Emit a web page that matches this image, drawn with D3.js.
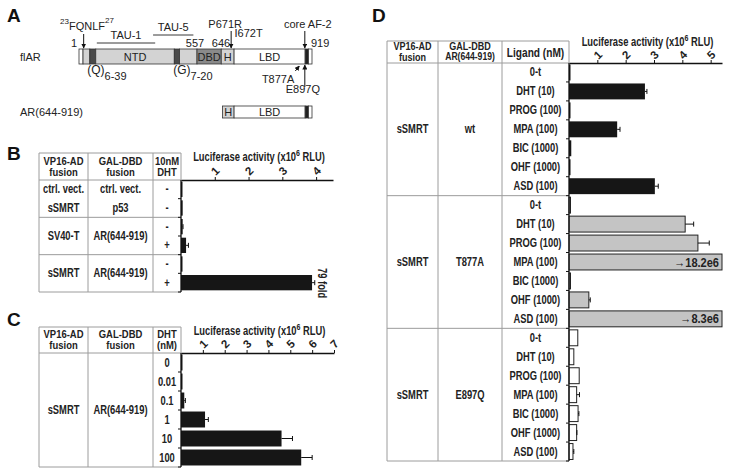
<!DOCTYPE html>
<html>
<head>
<meta charset="utf-8">
<script src="https://cdn.jsdelivr.net/npm/d3@7"></script>
<style>
  body { margin: 0; background: #fff; }
  svg { display: block; font-family: "Liberation Sans", Arial, sans-serif; }
  .tb { font-family: "Liberation Sans", Arial, sans-serif; font-weight: bold; fill: #222; }
  .pa { font-size: 11px; fill: #222; }
  .letter { font-size: 19px; font-weight: bold; fill: #111; }
</style>
</head>
<body>
<svg id="fig" width="729" height="475"></svg>
<script>
// ---- data ----
// panel A: AR domain map (amino-acid positions)
const flarSegments = [
  { from: 1, to: 20, type: 'end' },
  { from: 20, to: 52, type: 'ntd' },
  { from: 52, to: 80, type: 'tract' },
  { from: 80, to: 450, type: 'ntd', label: 'NTD' },
  { from: 450, to: 475, type: 'tract' },
  { from: 475, to: 557, type: 'ntd' },
  { from: 557, to: 640, type: 'dbd', label: 'DBD' },
  { from: 640, to: 680, type: 'hinge', label: 'H' },
  { from: 680, to: 898, type: 'lbd', label: 'LBD' },
  { from: 898, to: 908, type: 'af2' },
  { from: 908, to: 919, type: 'end' }
];
const arLbdSegments = [
  { from: 644, to: 680, type: 'hinge', label: 'H' },
  { from: 680, to: 898, type: 'lbd', label: 'LBD' },
  { from: 898, to: 908, type: 'af2' },
  { from: 908, to: 919, type: 'end' }
];
const tauRegions = [
  { name: 'TAU-1', from: 85, to: 360 },
  { name: 'TAU-5', from: 350, to: 540 }
];
const positionLabels = [1, 557, 646, 919];

// panel B
const bDHT = ['-', '-', '-', '+', '-', '+'];
const bValues = [0.02, 0.05, 0.05, 0.15, 0.03, 3.88];
const bErrors = [0, 0, 0.01, 0.07, 0, 0.08];
const bADFusion = ['ctrl. vect.', 'sSMRT', 'SV40-T', 'sSMRT'];
const bDBDFusion = ['ctrl. vect.', 'p53', 'AR(644-919)', 'AR(644-919)'];
const bCellRows = [[0, 0], [1, 1], [2, 3], [4, 5]];
const bTicks = [1, 2, 3, 4];

// panel C
const cDHT = ['0', '0.01', '0.1', '1', '10', '100'];
const cValues = [0.03, 0.02, 0.15, 1.1, 4.6, 5.5];
const cErrors = [0, 0, 0.05, 0.15, 0.5, 0.5];
const cTicks = [1, 2, 3, 4, 5, 6, 7];

// panel D
const ligands = ['0-t', 'DHT (10)', 'PROG (100)', 'MPA (100)', 'BIC (1000)', 'OHF (1000)', 'ASD (100)'];
const mutants = ['wt', 'T877A', 'E897Q'];
const wtValues = [0.03, 2.68, 0.03, 1.7, 0.08, 0.03, 3.03];
const wtErrors = [0, 0.07, 0, 0.1, 0, 0, 0.12];
const t877aValues = [0.03, 4.1, 4.55, 18.2, 0.03, 0.7, 8.3];
const t877aErrors = [0, 0.3, 0.4, 0, 0, 0.05, 0];
const e897qValues = [0.31, 0.17, 0.36, 0.27, 0.32, 0.27, 0.14];
const e897qErrors = [0, 0, 0, 0.1, 0.03, 0.01, 0.03];
const dTicks = [1, 2, 3, 4, 5];

const svg = d3.select('#fig');
const lineGray = '#9c9c9c';
const narrow = 0.78; // horizontal squeeze for the condensed table lettering

function letter(txt, x, y) {
  svg.append('text').attr('class', 'letter').attr('x', x).attr('y', y).text(txt);
}

// ---------- Panel A ----------
letter('A', 7, 22);
const aa = d3.scaleLinear().domain([1, 557, 646, 919]).range([79, 197, 223, 312]);
const shade = { end: '#fff', ntd: '#d3d3d3', tract: '#4a4a4a', dbd: '#8a8a8a', hinge: '#d3d3d3', lbd: '#fff', af2: '#222' };

svg.append('defs').append('marker')
  .attr('id', 'ah').attr('viewBox', '0 0 10 10').attr('refX', 9).attr('refY', 5)
  .attr('markerWidth', 5).attr('markerHeight', 5).attr('orient', 'auto')
  .append('path').attr('d', 'M0,0 L10,5 L0,10 z').attr('fill', '#111');

const gA = svg.append('g');

function domainBar(segs, y0, h) {
  gA.selectAll(null).data(segs).enter().append('rect')
    .attr('x', d => aa(d.from)).attr('y', y0)
    .attr('width', d => aa(d.to) - aa(d.from)).attr('height', h)
    .attr('fill', d => shade[d.type]).attr('stroke', '#333').attr('stroke-width', 0.8);
  gA.selectAll(null).data(segs.filter(d => d.label)).enter().append('text')
    .attr('class', 'pa').attr('text-anchor', 'middle')
    .attr('x', d => (aa(d.from) + aa(d.to)) / 2).attr('y', y0 + h / 2 + 4)
    .text(d => d.label);
}
domainBar(flarSegments, 49, 15);
domainBar(arLbdSegments, 106, 12);

gA.append('text').attr('class', 'pa').attr('x', 20).attr('y', 61).text('flAR');
gA.append('text').attr('class', 'pa').attr('x', 20).attr('y', 116).text('AR(644-919)');

// TAU regions
tauRegions.forEach((t, i) => {
  const y = i === 0 ? 43 : 35;
  gA.append('line').attr('x1', aa(t.from)).attr('x2', aa(t.to)).attr('y1', y).attr('y2', y)
    .attr('stroke', '#222').attr('stroke-width', 0.9);
  gA.append('text').attr('class', 'pa').attr('text-anchor', 'middle')
    .attr('x', (aa(t.from) + aa(t.to)) / 2).attr('y', y - 4).text(t.name);
});

// position numbers
gA.selectAll(null).data(positionLabels).enter().append('text')
  .attr('class', 'pa')
  .attr('text-anchor', d => d === 1 ? 'end' : d === 919 ? 'start' : 'middle')
  .attr('x', d => d === 1 ? aa(d) - 2 : d === 919 ? aa(d) - 1 : aa(d) - 2)
  .attr('y', 47).text(d => d);

function arrow(x1, y1, x2, y2) {
  gA.append('line').attr('x1', x1).attr('y1', y1).attr('x2', x2).attr('y2', y2)
    .attr('stroke', '#111').attr('stroke-width', 1).attr('marker-end', 'url(#ah)');
}
// FQNLF motif
arrow(aa(23), 34, aa(23), 48);
const fq = gA.append('text').attr('class', 'pa').attr('x', 60).attr('y', 30);
fq.append('tspan').attr('font-size', 8).attr('dy', -6).text('23');
fq.append('tspan').attr('dy', 6).text('FQNLF');
fq.append('tspan').attr('font-size', 8).attr('dy', -7).text('27');
// P671R / I672T
arrow(aa(671), 31, aa(671), 48);
gA.append('text').attr('class', 'pa').attr('text-anchor', 'middle').attr('x', aa(671) - 6).attr('y', 28).text('P671R');
gA.append('text').attr('class', 'pa').attr('x', aa(672) + 3).attr('y', 37).text('I672T');
// core AF-2
arrow(aa(897), 31, aa(897), 48);
gA.append('text').attr('class', 'pa').attr('text-anchor', 'middle').attr('x', aa(897) + 3).attr('y', 28).text('core AF-2');
// mutations below
arrow(aa(877) - 3, 71, aa(877) + 1, 66);
gA.append('text').attr('class', 'pa').attr('text-anchor', 'end').attr('x', aa(877) - 4).attr('y', 83).text('T877A');
arrow(aa(897), 87, aa(897), 65);
gA.append('text').attr('class', 'pa').attr('text-anchor', 'middle').attr('x', aa(897) - 2).attr('y', 93).text('E897Q');
// repeat tracts
function tract(x, base, sub) {
  const t = gA.append('text').attr('class', 'pa').attr('x', x).attr('y', 74).style('font-size', '12px');
  t.append('tspan').text(base);
  t.append('tspan').attr('dy', 6).style('font-size', '11px').text(sub);
}
tract(aa(40), '(Q)', '6-39');
tract(aa(445), '(G)', '7-20');

// ---------- shared helpers for table + bars ----------
function tableFrame(g, cols, top, headBottom, bottom, seps) {
  const x0 = cols[0], x1 = cols[cols.length - 1];
  const ln = (a, b, c, d) => g.append('line').attr('x1', a).attr('y1', b).attr('x2', c).attr('y2', d)
    .attr('stroke', lineGray).attr('stroke-width', 1);
  [top, headBottom, bottom].concat(seps).forEach(y => ln(x0, y, x1, y));
  cols.slice(0, -1).forEach(x => ln(x, top, x, bottom));
  ln(x1, top, x1, headBottom);
}
function ctext(g, x, y, str, size, sx) {
  return g.append('text').attr('class', 'tb').attr('text-anchor', 'middle')
    .attr('transform', `translate(${x},${y}) scale(${sx || narrow},1)`)
    .attr('font-size', size || 12).text(str);
}
// two-line header cell
function htext(g, x, y, l1, l2, gap, size1, size2) {
  ctext(g, x, y, l1, size1, 0.86);
  ctext(g, x, y + gap, l2, size2 || size1, 0.86);
}
function topAxis(g, x, ticks, yAxis, titleY, labelOff) {
  const ax = g.append('g').attr('transform', `translate(0,${yAxis})`)
    .call(d3.axisTop(x).tickValues(ticks).tickSize(3).tickSizeOuter(0).tickFormat(d3.format('d')));
  ax.attr('font-size', null).attr('font-family', null);
  ax.select('.domain').attr('stroke', '#111').attr('stroke-width', 1.3);
  ax.selectAll('.tick line').attr('stroke', '#111');
  ax.selectAll('.tick text')
    .attr('class', 'tb').attr('font-size', 11.5).attr('y', 0).attr('dy', '0.35em').attr('text-anchor', 'middle')
    .attr('transform', `translate(0,${-labelOff}) rotate(-45)`);
  const r = x.range();
  const t = g.append('text').attr('class', 'tb').attr('text-anchor', 'middle').attr('font-size', 12)
    .attr('transform', `translate(${(r[0] + r[1]) / 2 + 2},${titleY}) scale(${narrow},1)`);
  t.append('tspan').text('Luciferase activity (x10');
  t.append('tspan').attr('dy', -5).attr('font-size', 9).text('6');
  t.append('tspan').attr('dy', 5).text(' RLU)');
}
function leftAxis(g, x0, y, keys, bottom) {
  g.append('line').attr('x1', x0).attr('x2', x0).attr('y1', y.range()[0]).attr('y2', bottom)
    .attr('stroke', '#111').attr('stroke-width', 1.3);
  const step = y.step();
  const edges = keys.map((k, i) => y.range()[0] + i * step).concat([bottom]);
  g.selectAll(null).data(edges.slice(1)).enter().append('line')
    .attr('x1', x0 - 3).attr('x2', x0).attr('y1', d => d).attr('y2', d => d)
    .attr('stroke', '#111').attr('stroke-width', 1);
}
function drawBars(g, x, y, keys, values, errors, fill, stroke) {
  const max = x.domain()[1];
  const rows = keys.map((k, i) => ({ k, v: values[i], e: errors[i] }));
  g.selectAll(null).data(rows).enter().append('rect')
    .attr('x', x(0)).attr('y', d => y(d.k))
    .attr('width', d => Math.max(1.5, x(Math.min(d.v, max)) - x(0)))
    .attr('height', y.bandwidth())
    .attr('fill', fill).attr('stroke', stroke || 'none').attr('stroke-width', stroke ? 1 : 0);
  const eb = rows.filter(d => d.e > 0 && d.v < max);
  g.selectAll(null).data(eb).enter().append('line')
    .attr('x1', d => x(d.v)).attr('x2', d => x(d.v + d.e))
    .attr('y1', d => y(d.k) + y.bandwidth() / 2).attr('y2', d => y(d.k) + y.bandwidth() / 2)
    .attr('stroke', '#111').attr('stroke-width', 1);
  g.selectAll(null).data(eb).enter().append('line')
    .attr('x1', d => x(d.v + d.e)).attr('x2', d => x(d.v + d.e))
    .attr('y1', d => y(d.k) + y.bandwidth() / 2 - 2.5).attr('y2', d => y(d.k) + y.bandwidth() / 2 + 2.5)
    .attr('stroke', '#111').attr('stroke-width', 1);
  // off-scale values
  g.selectAll(null).data(rows.filter(d => d.v > max)).enter().append('text')
    .attr('class', 'tb').attr('text-anchor', 'end').attr('font-size', 13)
    .attr('transform', d => `translate(${x(max) - 3},${y(d.k) + y.bandwidth() / 2 + 4.5}) scale(0.85,1)`)
    .text(d => '\u2192' + d.v + 'e6');
}

// ---------- Panel B ----------
letter('B', 7, 160);
const gB = svg.append('g');
const bCols = [39, 88, 153, 181];
const bTop = 153, bHead = 180, bBottom = 292;
const bKeys = bDHT.map((d, i) => 'b' + i);
const yB = d3.scaleBand().domain(bKeys).range([bHead, bBottom]).paddingInner(0.18).paddingOuter(0.09);
const xB = d3.scaleLinear().domain([0, 4.5]).range([bCols[3], 333]);
tableFrame(gB, bCols, bTop, bHead, bBottom, [bHead + 2 * yB.step(), bHead + 4 * yB.step()]);
htext(gB, 63.5, 165, 'VP16-AD', 'fusion', 11, 11);
htext(gB, 120.5, 165, 'GAL-DBD', 'fusion', 11, 11);
htext(gB, 167, 165, '10nM', 'DHT', 11, 11);
bCellRows.forEach((r, i) => {
  const yc = bHead + (r[0] + r[1] + 1) / 2 * yB.step() + 4;
  ctext(gB, 63.5, yc, bADFusion[i]);
  ctext(gB, 120.5, yc, bDBDFusion[i]);
});
bDHT.forEach((s, i) => ctext(gB, 167, yB(bKeys[i]) + yB.bandwidth() / 2 + 4, s));
topAxis(gB, xB, bTicks, bHead, 161, 9);
drawBars(gB, xB, yB, bKeys, bValues, bErrors, '#161616');
leftAxis(gB, xB(0), yB, bKeys, bBottom);
gB.append('text').attr('class', 'tb').attr('font-size', 12)
  .attr('transform', `translate(${xB(bValues[5] + bErrors[5]) + 3},${yB(bKeys[5]) - 7}) rotate(90) scale(${narrow},1)`)
  .text('79 fold');

// ---------- Panel C ----------
letter('C', 7, 326);
const gC = svg.append('g');
const cCols = [39, 88, 153, 181];
const cTop = 327, cHead = 353, cBottom = 467;
const yC = d3.scaleBand().domain(cDHT).range([cHead, cBottom]).paddingInner(0.16).paddingOuter(0.08);
const xC = d3.scaleLinear().domain([0, 7]).range([cCols[3], 334]);
tableFrame(gC, cCols, cTop, cHead, cBottom, []);
htext(gC, 63.5, 338, 'VP16-AD', 'fusion', 11, 11);
htext(gC, 120.5, 338, 'GAL-DBD', 'fusion', 11, 11);
htext(gC, 167, 338, 'DHT', '(nM)', 11, 11);
ctext(gC, 63.5, (cHead + cBottom) / 2 + 4, 'sSMRT');
ctext(gC, 120.5, (cHead + cBottom) / 2 + 4, 'AR(644-919)');
cDHT.forEach(s => ctext(gC, 167, yC(s) + yC.bandwidth() / 2 + 4, s));
topAxis(gC, xC, cTicks, cHead, 335, 9);
drawBars(gC, xC, yC, cDHT, cValues, cErrors, '#161616');
leftAxis(gC, xC(0), yC, cDHT, cBottom);

// ---------- Panel D ----------
letter('D', 372, 22);
const gD = svg.append('g');
const dCols = [387, 438, 502, 569];
const dTop = 41, dHead = 63, dBottom = 461;
const dKeys = [];
mutants.forEach(m => ligands.forEach(l => dKeys.push(m + '|' + l)));
const yD = d3.scaleBand().domain(dKeys).range([dHead, dBottom]).paddingInner(0.16).paddingOuter(0.08);
const xD = d3.scaleLinear().domain([0, 5.4]).range([dCols[3], 722]);
const groupH = ligands.length * yD.step();
tableFrame(gD, dCols, dTop, dHead, dBottom, [dHead + groupH, dHead + 2 * groupH]);
htext(gD, 412.5, 50, 'VP16-AD', 'fusion', 10.5, 10.5);
htext(gD, 470, 49.5, 'GAL-DBD', 'AR(644-919)', 10.5, 10.5, 10);
ctext(gD, 535.5, 56.5, 'Ligand (nM)', 13);
mutants.forEach((m, i) => {
  const yc = dHead + (i + 0.5) * groupH + 4;
  ctext(gD, 412.5, yc, 'sSMRT');
  ctext(gD, 470, yc, m);
});
dKeys.forEach(k => ctext(gD, 535.5, yD(k) + yD.bandwidth() / 2 + 4, k.split('|')[1]));
topAxis(gD, xD, dTicks, dHead, 46, 8);
const dSeries = [
  { values: wtValues, errors: wtErrors, fill: '#161616', stroke: null },
  { values: t877aValues, errors: t877aErrors, fill: '#c4c4c4', stroke: '#222' },
  { values: e897qValues, errors: e897qErrors, fill: '#fff', stroke: '#222' }
];
dSeries.forEach((s, i) => {
  const keys = ligands.map(l => mutants[i] + '|' + l);
  drawBars(gD, xD, yD, keys, s.values, s.errors, s.fill, s.stroke);
});
leftAxis(gD, xD(0), yD, dKeys, dBottom);
</script>
</body>
</html>
